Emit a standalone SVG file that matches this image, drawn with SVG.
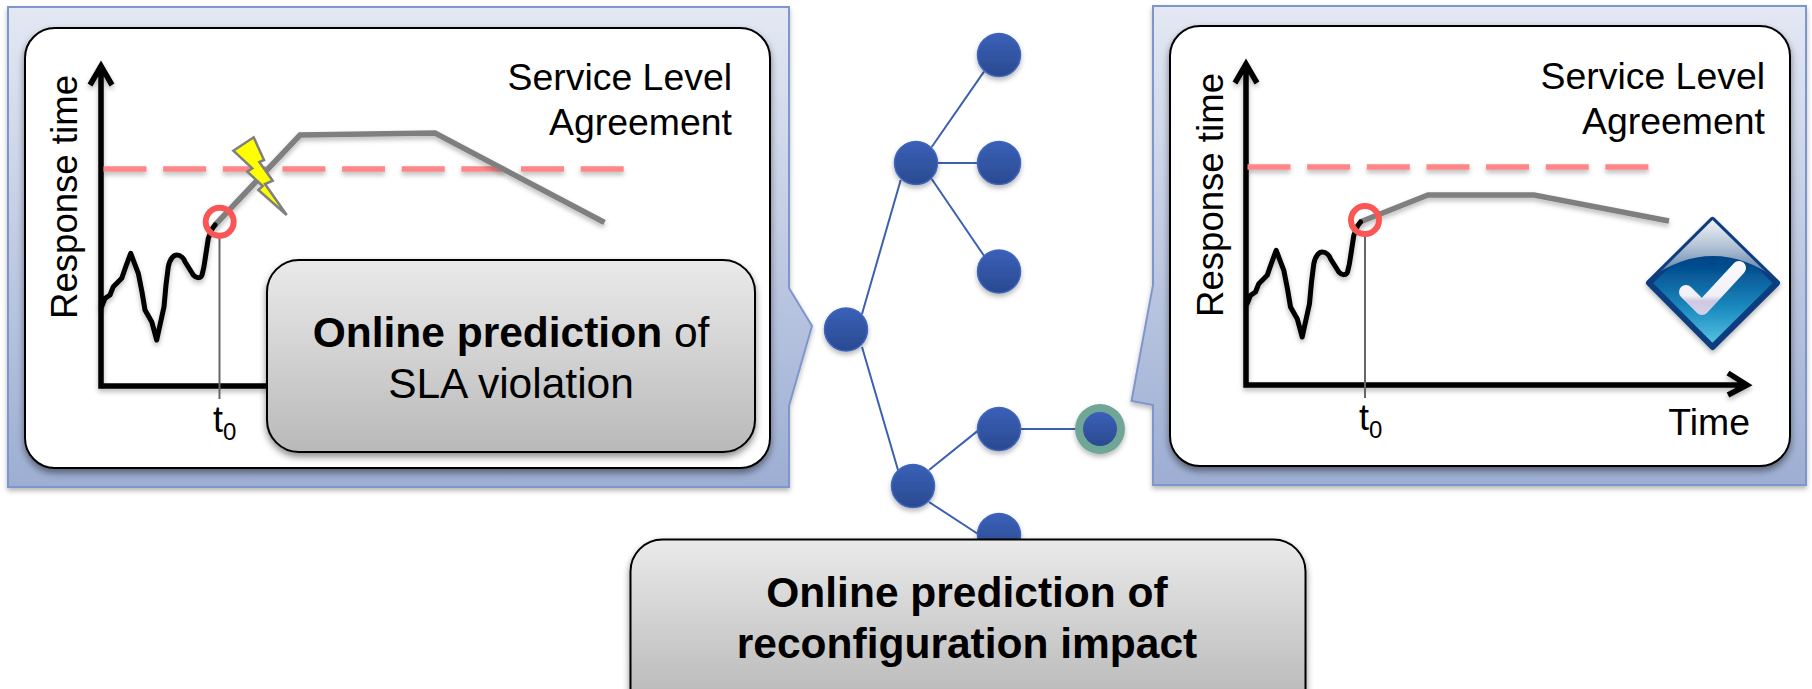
<svg xmlns="http://www.w3.org/2000/svg" xmlns:xlink="http://www.w3.org/1999/xlink" width="1812" height="689" viewBox="0 0 1812 689">
<style>
text{font-family:"Liberation Sans",Arial,sans-serif;fill:#000}
.panel{fill:url(#pg);stroke:#7F96CC;stroke-width:2;filter:url(#sh)}
.inner{fill:#fff;stroke:#000;stroke-width:2;filter:url(#sh2)}
.box{fill:url(#bg);stroke:#000;stroke-width:2;filter:url(#sh2)}
.axis{fill:none;stroke:#000;stroke-width:5.5;filter:url(#sh)}
.sla{fill:none;stroke:#FF8686;stroke-width:5.5;stroke-dasharray:43 16.650;filter:url(#sh)}
.pred{fill:none;stroke:#7F7F7F;stroke-width:5.5;filter:url(#sh)}
.hist{fill:none;stroke:#000;stroke-width:5;stroke-linejoin:round;stroke-linecap:round;filter:url(#sh)}
.ring{fill:none;stroke:#FB5656;stroke-width:6}
.t0{fill:none;stroke:#666;stroke-width:2}
.node{fill:url(#ng);stroke:#3F65BB;stroke-width:1.5;filter:url(#sh)}
.edge{fill:none;stroke:#3C60B0;stroke-width:2}
.lbl{font-size:37.4px}
.ylab{font-size:36.6px}
.blab{font-size:42.5px}
.tz{font-size:36px}
.sub{font-size:24px}
</style>
<defs>
<linearGradient id="pg" x1="0" y1="0" x2="0" y2="1"><stop offset="0" stop-color="#E3E8F3"/><stop offset="1" stop-color="#9DAED3"/></linearGradient>
<linearGradient id="bg" x1="0" y1="0" x2="0" y2="1"><stop offset="0" stop-color="#EAEAEA"/><stop offset="1" stop-color="#B9B9B9"/></linearGradient>
<linearGradient id="bg2" gradientUnits="userSpaceOnUse" x1="0" y1="540" x2="0" y2="700"><stop offset="0" stop-color="#EAEAEA"/><stop offset="1" stop-color="#B9B9B9"/></linearGradient>
<linearGradient id="ng" x1="0" y1="0" x2="0" y2="1"><stop offset="0" stop-color="#3A60B8"/><stop offset="1" stop-color="#2A4A90"/></linearGradient>
<linearGradient id="dg" x1="0" y1="0" x2="0" y2="1"><stop offset="0" stop-color="#002F6C"/><stop offset=".35" stop-color="#014A8C"/><stop offset=".7" stop-color="#1C8CC0"/><stop offset="1" stop-color="#5CC8E4"/></linearGradient>
<linearGradient id="gl" x1="0" y1="0" x2="0" y2="1"><stop offset="0" stop-color="#F8F9FB"/><stop offset=".45" stop-color="#B4C3D6"/><stop offset="1" stop-color="#3F6A9C"/></linearGradient>
<linearGradient id="ck" gradientUnits="userSpaceOnUse" x1="0" y1="262" x2="0" y2="318"><stop offset="0" stop-color="#FAFAFD"/><stop offset=".6" stop-color="#F2F0F7"/><stop offset=".7" stop-color="#CDC9E2"/><stop offset="1" stop-color="#D6D3E8"/></linearGradient>
<clipPath id="dc"><path d="M1712.5,220 L1777,283 L1712.5,347 L1649,283Z"/></clipPath>
<filter id="sh" filterUnits="userSpaceOnUse" x="0" y="0" width="1812" height="689"><feDropShadow dx="0" dy="3" stdDeviation="2.5" flood-color="#000" flood-opacity=".28"/></filter>
<filter id="sh2" filterUnits="userSpaceOnUse" x="0" y="0" width="1812" height="689"><feDropShadow dx="0" dy="4" stdDeviation="3.5" flood-color="#000" flood-opacity=".45"/></filter>
<path id="curve" d="M101.7,306.7 L105,298.3 L110,295 L113.3,286.7 L121.7,278.3 L126,266 L130.7,253.3 L138.3,273.3 L142,292 L145,310 L151.7,321.7 L156.7,340 L164,306.7 L166,285 L168.3,266.7 C170,258 174,255 176.7,255 C181,255 184,259 185,261.7 L193.3,275 C197,279 201,278 202,275 C204,268 205,260 205,260 L208.3,238.3 L212,229 L215,225"/>
</defs>

<g id="connectors">
<path class="edge" d="M862,314 L900.7,180"/>
<path class="edge" d="M862,347 L898,470"/>
<path class="edge" d="M931.700,147 L984,71.600"/>
<path class="edge" d="M930,163 L985,163"/>
<path class="edge" d="M931.700,179 L984,255.700"/>
<path class="edge" d="M929,470 L978,430.600"/>
<path class="edge" d="M929,502 L978,534"/>
<path class="edge" d="M1015,429 L1085,429"/>
</g>

<g id="tree-nodes">
<circle id="n-root" class="node" cx="846" cy="329.5" r="21.5"/>
<circle id="n-a" class="node" cx="916" cy="163" r="21.5"/>
<circle id="n-a1" class="node" cx="999" cy="55" r="21.5"/>
<circle id="n-a2" class="node" cx="999" cy="163" r="21.5"/>
<circle id="n-a3" class="node" cx="999" cy="271.5" r="21.5"/>
<circle id="n-b" class="node" cx="913" cy="486" r="21.5"/>
<circle id="n-b1" class="node" cx="999" cy="429" r="21.5"/>
<circle id="n-b2" class="node" cx="999" cy="535" r="21.5"/>
<g id="n-b1a">
<circle cx="1100" cy="429" r="25" fill="#6FA698" filter="url(#sh)"/>
<circle cx="1100" cy="429" r="17" fill="url(#ng)"/>
</g>
</g>

<g id="panel-left">
<path class="panel" d="M8,7 H789 V288 L812,326 L789,406 V487 H8 Z"/>
<rect class="inner" x="25" y="28" width="745" height="440" rx="30"/>
<text class="lbl" x="732" y="90" text-anchor="end">Service Level</text>
<text class="lbl" x="732" y="135" text-anchor="end">Agreement</text>
<text class="ylab" transform="translate(77,319) rotate(-90)">Response time</text>
<path class="axis" d="M90,85 L101,66 L112,85 M101,66 V386 H280"/>
<path class="sla" d="M103.500,169 H624"/>
<path class="pred" d="M215,225 L300,135 L435,133 L604.500,222.500"/>
<use xlink:href="#curve" href="#curve" class="hist"/>
<path class="t0" d="M219.500,236 V399"/>
<circle class="ring" cx="219.700" cy="221.700" r="14"/>
<path d="M233.300,150.700 L253.700,137.300 L264,160 L259.300,162 L272.700,180.700 L265,184 L286.700,215 L258.300,190 L262.700,186 L247.300,171.700 L252.300,168.300 Z" fill="#FFFF00" stroke="#7F7F7F" stroke-width="2.500" stroke-linejoin="miter"/>
<text class="tz" x="213" y="432">t<tspan class="sub" dy="8">0</tspan></text>
</g>

<g id="box-left">
<rect class="box" x="267" y="260" width="488" height="192" rx="32"/>
<text class="blab" x="511" y="347" text-anchor="middle"><tspan font-weight="700">Online prediction</tspan> of</text>
<text class="blab" x="511" y="398" text-anchor="middle">SLA violation</text>
</g>

<g id="panel-right">
<path class="panel" d="M1153,6 H1806 V485 H1153 V405 L1131.500,401 L1153,285 Z"/>
<rect class="inner" x="1170" y="26" width="620" height="440" rx="30"/>
<text class="lbl" x="1765" y="89" text-anchor="end">Service Level</text>
<text class="lbl" x="1765" y="134" text-anchor="end">Agreement</text>
<text class="ylab" transform="translate(1223,317) rotate(-90)">Response time</text>
<path class="axis" d="M1235,83 L1246,64 L1257,83 M1246,64 V385 H1746 M1728,373 L1747,385 L1728,395"/>
<path class="sla" d="M1247.500,167 H1650"/>
<path class="pred" d="M1360,222 L1428,195 L1534,195 L1669,221"/>
<use xlink:href="#curve" href="#curve" class="hist" transform="translate(1145.500,-3)"/>
<path class="t0" d="M1365,235 V398"/>
<circle class="ring" cx="1365" cy="220" r="14"/>
<text class="tz" x="1359" y="430">t<tspan class="sub" dy="8">0</tspan></text>
<text class="lbl" x="1750" y="435" text-anchor="end">Time</text>
<g id="check-icon">
<path d="M1712.500,220 L1777,283 L1712.500,347 L1649,283Z" fill="url(#dg)" stroke="#0D3E7E" stroke-width="6" stroke-linejoin="round" filter="url(#sh)"/>
<g clip-path="url(#dc)"><path d="M1645,283 C1665,265 1690,256 1713,256 C1736,256 1760,265 1781,283 L1713,216 Z" fill="url(#gl)"/></g>
<path d="M1686,292 L1702,308 L1739,268" fill="none" stroke="url(#ck)" stroke-width="14" stroke-linecap="round" stroke-linejoin="round"/>
</g>
</g>

<g id="box-bottom">
<rect x="630.500" y="539.500" width="675" height="190" rx="32" fill="url(#bg2)" stroke="#000" stroke-width="2" filter="url(#sh2)"/>
<text class="blab" x="967" y="607" text-anchor="middle" font-weight="700">Online prediction of</text>
<text class="blab" x="967" y="658" text-anchor="middle" font-weight="700">reconfiguration impact</text>
</g>
</svg>
